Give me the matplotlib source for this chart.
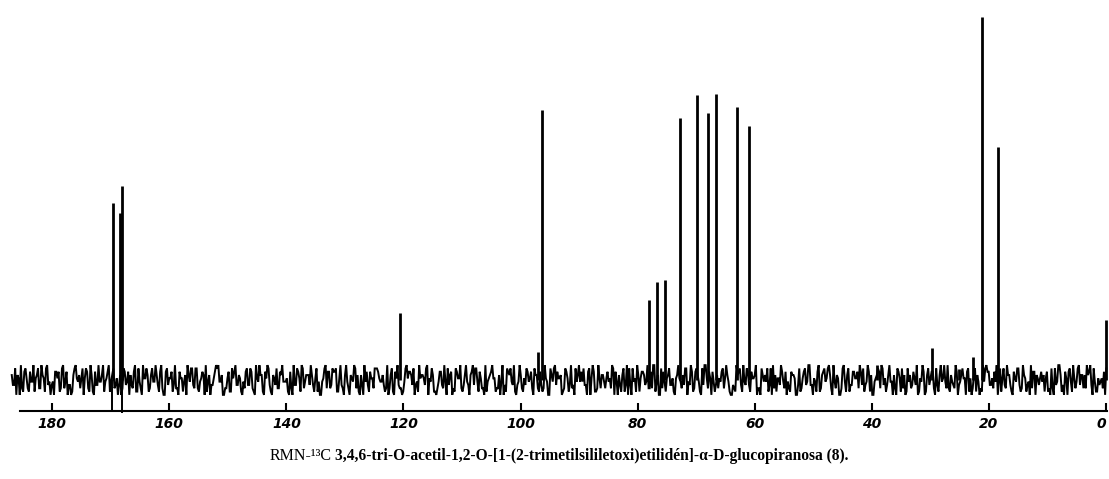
import numpy as np
import matplotlib
matplotlib.use("Agg")
import matplotlib.pyplot as plt

# --- 13C NMR spectrum: line positions (ppm) and intensities (arbitrary units) ---
peak_ppm = [169.6, 168.4, 168.0,
            120.6,
            97.1, 96.4,
            78.0, 76.7, 75.3, 72.7, 69.8, 67.9, 66.6, 63.0, 60.9,
            39.2, 29.8, 25.1, 22.8, 21.1, 18.5,
            0.05]
peak_height = [177, 167, 194,
               67,
               28, 270,
               80, 98, 100, 262, 285, 267, 286, 273, 254,
               15, 32, 11, 23, 363, 233,
               60]

# negative phase artefacts under the carbonyl lines
dip_ppm = [169.7, 168.0]
dip_depth = [-31, -33]

baseline_level = 31

# baseline noise, one digit per sample (0..9 around the baseline)
noise_digits = (
    "6305918274162958304751827306942857160394"
    "9471625308376291405816493720857320516948"
    "2815694037846027159350283719461793058264"
    "4170385926693510482737819264059216043758"
    "8543206179204976831563958104724860175239"
    "3698472015751209386490461375286132508497"
    "5027193864430857192627590461830385917642"
    "7916024583159468037284039257165729403168"
    "1483759206683021594741650827393047168592"
    "9250846137527839104679316402858614273059"
    "0637281954914273650852860149732408539617"
    "4819530276376510284910574928366973815420"
)
noise_digits_b = (
    "3860275149582619430772940318565082917346"
    "1594830627403718295628461907351927540683"
    "8247016359940251873614738205960581632794"
    "5029371846361840597287153092648603971528"
    "7461928053218573049658046127390372859164"
    "0738152946952640178313925847062719406835"
    "6185320497837091256454287036198041657392"
    "2940871635065238491761895704324856102973"
    "9371560284418965372027603158493519274860"
    "4602918375793147605828539460712086359147"
    "1857036492263904857106142987357941826305"
    "8326149705541728039637081549622690413578"
)

tick_ppm = [180, 160, 140, 120, 100, 80, 60, 40, 20, 0]
tick_labels = ["180", "160", "140", "120", "100", "80", "60", "40", "20", "0"]

caption_left = "RMN-\u00b9\u00b3C"
caption_right = ("3,4,6-tri-O-acetil-1,2-O-[1-(2-trimetilsililetoxi)etilidén]-"
                 "\u03b1-D-glucopiranosa (8).")

W, H = 1109, 479
fig = plt.figure(figsize=(W / 100, H / 100), dpi=100)
fig.patch.set_facecolor("white")

x_left_ppm, x_right_ppm = 187.2, -0.34
ax = fig.add_axes([10 / W, 59 / H, 1098 / W, 420 / H])
ax.set_xlim(x_left_ppm, x_right_ppm)
ax.set_ylim(-9, 411)

# noise trace: the two digit rows are interleaved sample by sample
va = np.array([int(c) for c in noise_digits], dtype=float)
vb = np.array([int(c) for c in noise_digits_b], dtype=float)
noise_vals = np.empty(va.size + vb.size)
noise_vals[0::2] = va
noise_vals[1::2] = vb
noise_x = np.linspace(x_left_ppm - 0.3, x_right_ppm + 0.3, len(noise_vals))
noise_y = baseline_level + (noise_vals - 4.5) * 3.3
ax.plot(noise_x, noise_y, color="black", lw=1.4, solid_joinstyle="miter")

# resonance lines
ax.vlines(peak_ppm, baseline_level, np.array(peak_height) + baseline_level,
          color="black", lw=2.0)
ax.vlines(dip_ppm, np.array(dip_depth) + baseline_level, baseline_level,
          color="black", lw=1.4)

# chemical-shift axis
for side in ("top", "left", "right"):
    ax.spines[side].set_visible(False)
ax.spines["bottom"].set_position(("data", 0))
ax.spines["bottom"].set_linewidth(1.5)
ax.spines["bottom"].set_bounds(185.5, -0.1)
ax.set_yticks([])
ax.set_xticks(tick_ppm)
ax.set_xticklabels(tick_labels, fontsize=10, fontweight="bold", style="italic",
                   family="DejaVu Sans")
ax.get_xticklabels()[-1].set_horizontalalignment("right")
ax.tick_params(axis="x", direction="in", length=6, width=1.5, pad=4)
ax.patch.set_alpha(0)

# caption
fig.text(270 / W, 1 - 456 / H, caption_left, ha="left", va="center",
         fontsize=11.5, family="Liberation Serif")
fig.text(335 / W, 1 - 456 / H, caption_right, ha="left", va="center",
         fontsize=11.2, fontweight="bold", family="Liberation Serif")

fig.savefig("out.png", dpi=100)
